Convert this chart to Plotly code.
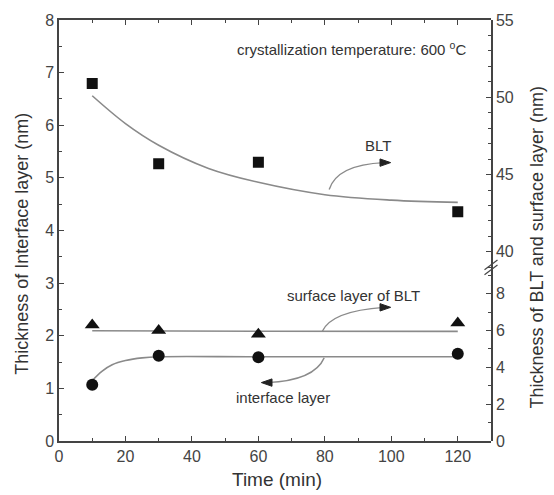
import plotly.graph_objects as go

# ---- data ----
time_min = [10, 30, 60, 120]
blt_nm = [50.9, 45.7, 45.8, 42.6]          # right axis (upper segment)
surface_nm = [6.3, 6.0, 5.8, 6.4]          # right axis (lower segment)
interface_nm = [1.07, 1.62, 1.59, 1.66]    # left axis

blt_fit_t = [10, 20, 30, 45, 60, 80, 100, 120]
blt_fit_v = [50.1, 48.3, 46.9, 45.4, 44.5, 43.7, 43.35, 43.2]
surface_fit_t = [10, 60, 120]
surface_fit_v = [5.98, 5.96, 5.95]
interface_fit_t = [10, 13, 16, 20, 25, 30, 60, 120]
interface_fit_v = [1.15, 1.33, 1.45, 1.53, 1.58, 1.6, 1.6, 1.6]

x_ticks = [0, 20, 40, 60, 80, 100, 120]
left_ticks = [0, 1, 2, 3, 4, 5, 6, 7, 8]
right_low_ticks = [0, 2, 4, 6, 8]
right_up_ticks = [40, 45, 50, 55]

FONT = "Arial, Liberation Sans, sans-serif"
LINE = "#8a8a8a"
AX = "#444444"
TXT = "#333333"

fig = go.Figure()

# fit curves
fig.add_trace(go.Scatter(x=blt_fit_t, y=blt_fit_v, mode="lines", line=dict(color=LINE, width=1.6, shape="spline"),
                         yaxis="y3", showlegend=False, hoverinfo="skip"))
fig.add_trace(go.Scatter(x=surface_fit_t, y=surface_fit_v, mode="lines", line=dict(color=LINE, width=1.6, shape="spline"),
                         yaxis="y2", showlegend=False, hoverinfo="skip"))
fig.add_trace(go.Scatter(x=interface_fit_t, y=interface_fit_v, mode="lines", line=dict(color=LINE, width=1.6, shape="spline"),
                         yaxis="y", showlegend=False, hoverinfo="skip"))

# markers
fig.add_trace(go.Scatter(x=time_min, y=blt_nm, mode="markers", yaxis="y3",
                         marker=dict(symbol="square", size=11, color="#111111"), showlegend=False))
fig.add_trace(go.Scatter(x=time_min, y=surface_nm, mode="markers", yaxis="y2",
                         marker=dict(symbol="triangle-up", size=13, color="#111111"), showlegend=False))
fig.add_trace(go.Scatter(x=time_min, y=interface_nm, mode="markers", yaxis="y",
                         marker=dict(symbol="circle", size=12, color="#111111"), showlegend=False))

tickfont = dict(family=FONT, size=16, color="#444444")
common = dict(showline=True, linecolor=AX, linewidth=1.5, ticks="inside", ticklen=5, tickcolor=AX,
              tickwidth=1, showgrid=False, zeroline=False, tickfont=tickfont)

fig.update_layout(
    width=554, height=495,
    margin=dict(l=59, r=63, t=16, b=54),
    plot_bgcolor="rgba(0,0,0,0)", paper_bgcolor="white",
    xaxis=dict(range=[0, 130], tickvals=x_ticks, mirror="ticks",
               minor=dict(ticks="inside", dtick=10, ticklen=3, tickcolor=AX), **common),
    yaxis=dict(range=[0, 8], tickvals=left_ticks, domain=[0, 1],
               minor=dict(ticks="inside", dtick=0.5, ticklen=3, tickcolor=AX), **common),
    yaxis2=dict(range=[0, 9.3], tickvals=right_low_ticks, domain=[0, 0.407], side="right", anchor="x",
                minor=dict(ticks="inside", dtick=1, ticklen=3, tickcolor=AX), **common),
    yaxis3=dict(range=[38.85, 55], tickvals=right_up_ticks, domain=[0.407, 1], side="right", anchor="x",
                minor=dict(ticks="inside", dtick=1, ticklen=3, tickcolor=AX), **common),
)

# curved arrow paths (data coords on x / left y)
arrow_style = dict(color=LINE, width=1.4)
fig.add_shape(type="path", xref="x", yref="y", path="M 81.3 4.78 Q 83.7 5.25 97.8 5.29", line=arrow_style)
fig.add_shape(type="path", xref="x", yref="y", path="M 79.2 2.08 Q 81.9 2.47 97.8 2.54", line=arrow_style)
fig.add_shape(type="path", xref="x", yref="y", path="M 79.8 1.58 Q 76.8 1.15 62.7 1.11", line=arrow_style)

# arrowheads (small filled triangles)
head = dict(color="#222222", width=1)
fig.add_shape(type="path", xref="x", yref="y", path="M 99.8 5.29 L 96.6 5.36 L 96.6 5.22 Z",
              line=head, fillcolor="#222222")
fig.add_shape(type="path", xref="x", yref="y", path="M 99.8 2.54 L 96.6 2.61 L 96.6 2.47 Z",
              line=head, fillcolor="#222222")
fig.add_shape(type="path", xref="x", yref="y", path="M 60.9 1.11 L 64.1 1.18 L 64.1 1.04 Z",
              line=head, fillcolor="#222222")

# axis break marks on right axis
for dy in (0.0, 0.012):
    fig.add_shape(type="line", xref="paper", yref="paper", x0=0.985, x1=1.015,
                  y0=0.395 + dy, y1=0.418 + dy, line=dict(color=AX, width=1.2))

lab = dict(family=FONT, size=15, color=TXT)
ctr = dict(xref="paper", yref="paper", xanchor="center", yanchor="middle", showarrow=False)
fig.add_annotation(x=0.407, y=0.932, xref="paper", yref="paper", xanchor="left", yanchor="middle",
                   text="crystallization temperature: 600 <sup>o</sup>C", showarrow=False, font=lab)
fig.add_annotation(x=0.738, y=0.701, text="BLT", font=lab, **ctr)
fig.add_annotation(x=0.681, y=0.346, text="surface layer of BLT", font=lab, **ctr)
fig.add_annotation(x=0.519, y=0.104, text="interface layer", font=lab, **ctr)

titlefont = dict(family=FONT, size=18, color=TXT)
fig.add_annotation(x=-0.086, y=0.468, text="Thickness of Interface layer (nm)",
                   textangle=-90, font=titlefont, **ctr)
fig.add_annotation(x=1.107, y=0.46, text="Thickness of BLT and surface layer (nm)",
                   textangle=-90, font=titlefont, **ctr)
fig.add_annotation(x=0.504, y=-0.092, text="Time (min)",
                   font=dict(family=FONT, size=19, color=TXT), **ctr)

fig.write_html("out.html")
